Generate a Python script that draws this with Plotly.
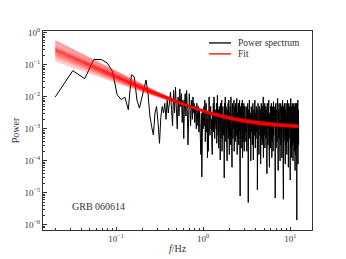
import numpy as np
import plotly.graph_objects as go

# ---- frequency grid (FFT bins, Hz), three segments ----
freq_a = 0.02 + 0.0118 * np.arange(85)     # 0.02 ... 1.01
freq_b = 1.02 + 0.0125 * np.arange(160)    # 1.02 ... 3.01
freq_c = 3.02 + 0.025 * np.arange(380)     # 3.02 ... 12.5

# ---- log10 power ----
logp_a = [
    -2.0, -1.18, -1.43, -0.83, -0.83, -0.94, -1.2, -1.93, -2.08, -2.01,
    -2.40, -1.31, -1.37, -2.1, -2.35, -2.0, -1.7, -1.47, -1.9, -2.6,
    -2.93, -3.19, -2.5, -2.3, -2.8, -3.45, -2.6, -2.3, -2.5, -2.2,
    -2.7, -2.1, -2.5, -2.0, -1.85, -2.4, -2.9, -1.8, -2.5, -1.7,
    -2.2, -3.0, -2.0, -2.6, -1.75, -2.3, -1.9, -2.8, -2.1, -3.3,
    -2.2, -1.9, -2.6, -1.8, -2.4, -3.5, -2.7, -1.9, -2.2, -2.9,
    -2.4, -2.1, -2.7, -2.0, -2.5, -2.2, -2.8, -2.3, -2.6, -3.0,
    -2.2, -2.5, -2.9, -2.3, -3.1, -2.4, -2.7, -3.3, -3.8, -2.5,
    -4.5, -2.6, -2.4, -3.0, -2.5,
]
logp_b = [
    -2.3, -2.9, -2.1, -3.4, -2.6, -2.2, -3.1, -2.7, -3.9, -2.5,
    -3.7, -2.4, -2.0, -2.8, -3.2, -2.6, -2.3, -3.0, -2.7, -3.4,
    -3.8, -2.5, -2.9, -2.2, -3.1, -2.0, -2.7, -3.3, -2.4, -2.8,
    -2.6, -3.0, -2.2, -3.45, -2.5, -1.95, -2.9, -3.2, -2.4, -3.6,
    -2.7, -2.3, -3.1, -2.6, -3.97, -2.2, -2.8, -3.3, -2.5, -2.1,
    -3.7, -2.6, -2.9, -2.3, -3.0, -2.4, -3.2, -2.7, -4.53, -2.2,
    -2.5, -3.1, -2.0, -2.8, -3.4, -2.3, -2.6, -2.9, -3.6, -4.0,
    -2.4, -2.7, -3.0, -2.2, -3.3, -2.6, -2.1, -2.9, -3.8, -2.5,
    -2.8, -3.2, -2.3, -2.6, -3.5, -2.0, -2.7, -3.0, -2.4, -3.1,
    -4.2, -2.5, -2.9, -2.2, -3.3, -2.7, -2.4, -3.0, -2.6, -2.1,
    -3.7, -2.8, -2.3, -3.1, -2.5, -2.9, -3.4, -2.2, -2.7, -3.0,
    -2.4, -3.2, -2.6, -2.05, -2.9, -3.8, -2.5, -2.8, -3.3, -2.3,
    -2.7, -3.0, -2.2, -3.5, -2.6, -2.4, -3.1, -2.8, -2.1, -3.4,
    -2.5, -5.1, -2.9, -2.3, -3.2, -2.7, -2.4, -3.6, -2.6, -2.2,
    -3.0, -2.8, -2.5, -3.3, -2.1, -3.9, -2.6, -2.9, -2.3, -3.1,
    -2.7, -2.4, -3.4, -2.2, -2.8, -3.7, -2.5, -3.0, -2.6, -2.3,
]
logp_c = [
    -2.5, -3.1, -2.7, -3.4, -2.3, -2.9, -3.7, -2.6, -3.0, -2.2,
    -2.8, -5.3, -2.4, -3.2, -2.7, -2.1, -3.3, -2.6, -3.0, -2.5,
    -4.0, -2.7, -2.3, -3.1, -2.9, -2.5, -3.5, -2.8, -2.2, -3.3,
    -3.97, -2.6, -2.4, -3.0, -2.8, -3.2, -2.1, -2.7, -3.6, -2.5,
    -2.9, -3.3, -2.3, -2.7, -3.1, -2.6, -2.4, -4.9, -2.8, -3.0,
    -2.2, -3.4, -2.6, -2.9, -3.8, -2.5, -3.1, -2.3, -2.7, -3.2,
    -2.8, -2.4, -4.1, -2.6, -3.0, -2.2, -3.3, -2.7, -2.5, -3.5,
    -2.9, -2.3, -3.1, -2.6, -3.4, -2.0, -3.9, -2.8, -2.5, -3.0,
    -2.4, -3.2, -2.7, -2.2, -3.6, -2.9, -2.5, -3.1, -2.8, -2.3,
    -3.3, -2.6, -3.0, -2.4, -2.8, -4.4, -2.7, -2.2, -3.2, -2.5,
    -2.9, -3.5, -2.6, -2.3, -3.1, -2.8, -2.1, -3.4, -2.7, -3.0,
    -4.2, -2.5, -2.9, -3.2, -2.4, -2.7, -3.6, -2.3, -2.8, -3.0,
    -2.6, -3.3, -2.2, -2.9, -3.1, -3.9, -2.5, -2.7, -3.4, -2.4,
    -2.8, -3.0, -2.3, -3.7, -2.6, -2.9, -2.15, -3.2, -2.7, -2.5,
    -3.1, -2.4, -2.8, -3.5, -2.6, -3.0, -2.3, -2.9, -5.16, -2.7,
    -3.3, -2.5, -2.2, -3.0, -2.8, -3.6, -2.4, -2.9, -3.1, -2.6,
    -2.7, -3.4, -2.3, -2.9, -3.2, -2.5, -2.05, -3.0, -2.8, -3.8,
    -4.3, -2.6, -2.9, -2.4, -3.1, -2.7, -3.3, -2.2, -2.8, -3.0,
    -2.5, -3.2, -2.7, -2.3, -2.9, -4.0, -2.6, -3.4, -2.4, -2.8,
    -3.0, -2.2, -3.5, -2.7, -2.5, -3.1, -2.9, -2.3, -3.6, -2.6,
    -3.9, -2.8, -2.4, -3.2, -2.6, -3.0, -2.1, -2.9, -3.3, -2.7,
    -2.5, -3.1, -2.8, -5.2, -2.3, -2.7, -3.4, -2.6, -3.0, -2.4,
    -2.9, -3.2, -2.2, -2.8, -3.6, -2.5, -3.0, -2.7, -2.3, -3.3,
    -4.1, -2.6, -2.9, -2.4, -3.1, -2.7, -3.5, -2.2, -2.8, -3.0,
    -2.5, -3.3, -2.7, -2.3, -3.0, -3.8, -2.6, -2.9, -2.4, -3.2,
    -2.8, -2.1, -3.4, -2.6, -3.0, -2.5, -2.9, -3.7, -2.3, -2.7,
    -4.2, -2.9, -2.5, -3.1, -2.7, -2.2, -3.3, -2.8, -2.6, -3.0,
    -2.4, -3.5, -2.7, -2.9, -3.2, -2.5, -2.3, -3.0, -2.8, -4.6,
    -2.6, -3.1, -2.4, -2.8, -3.4, -2.05, -2.9, -3.6, -2.5, -2.7,
    -3.0, -2.3, -3.2, -2.7, -2.5, -3.9, -2.8, -2.4, -3.1, -2.6,
    -2.9, -3.3, -2.2, -2.7, -3.0, -2.5, -3.5, -2.8, -2.4, -3.2,
    -4.0, -2.6, -2.9, -2.3, -3.1, -2.7, -2.5, -3.4, -2.8, -2.2,
    -3.0, -2.7, -3.3, -2.4, -2.9, -3.7, -2.6, -2.8, -3.1, -2.5,
    -2.3, -3.2, -2.7, -2.9, -4.3, -2.5, -3.0, -2.6, -2.2, -3.4,
    -3.8, -2.8, -2.4, -3.1, -2.7, -2.5, -3.3, -2.9, -2.6, -3.0,
    -2.4, -3.2, -2.8, -2.2, -3.0, -5.85, -2.7, -2.5, -3.4, -2.9,
    -2.6, -3.1, -2.3, -3.6, -2.8, -2.5, -3.0, -2.7, -2.1, -3.3,
    -4.1, -2.7, -2.9, -2.4, -3.2, -2.6, -3.0, -2.5, -2.8, -3.5,
]

# ---- fit posterior samples: P = amp * f^-index + const ----
fit_index = [1.00, 1.05, 1.08, 1.10, 1.12, 1.14, 1.15, 1.16, 1.18, 1.19, 1.20, 1.20,
             1.21, 1.22, 1.23, 1.24, 1.25, 1.26, 1.28, 1.30, 1.32, 1.35, 1.38, 1.40]
fit_amp = [0.00274, 0.00269, 0.00266, 0.00264, 0.00262, 0.00260, 0.00259, 0.00258,
           0.00257, 0.00256, 0.00255, 0.00255, 0.00254, 0.00253, 0.00252, 0.00251,
           0.00250, 0.00250, 0.00248, 0.00246, 0.00244, 0.00242, 0.00239, 0.00237]
fit_const = [0.00105, 0.00112, 0.00100, 0.00115, 0.00108, 0.00103, 0.00118, 0.00110,
             0.00106, 0.00113, 0.00109, 0.00111, 0.00104, 0.00116, 0.00107, 0.00112,
             0.00101, 0.00110, 0.00114, 0.00106, 0.00109, 0.00103, 0.00117, 0.00108]

y_tick_exp = [0, -1, -2, -3, -4, -5, -6]
x_tick_exp = [-1, 0, 1]
legend_labels = ["Power spectrum", "Fit"]
legend_colors = ["black", "red"]

freq = np.concatenate([freq_a, freq_b, freq_c])
power = 10.0 ** np.array(logp_a + logp_b + logp_c)

FONT = "Liberation Serif"
TXT = "#333"
fig = go.Figure()

fig.add_trace(go.Scatter(x=freq, y=power, mode="lines", name=legend_labels[0],
                         line=dict(color="black", width=1), showlegend=False))

for a, idx, c in zip(fit_amp, fit_index, fit_const):
    fig.add_trace(go.Scatter(x=freq, y=a * freq ** (-idx) + c, mode="lines",
                             line=dict(color="rgba(255,0,0,0.22)", width=2),
                             showlegend=False, hoverinfo="skip"))

def sup(e):
    return "10<sup>" + ("\u2212" if e < 0 else "") + str(abs(e)) + "</sup>"

def minor_vals(lo, hi):
    return [m * 10.0 ** e for e in range(lo, hi) for m in range(2, 10)]

axis_common = dict(type="log", showgrid=False, zeroline=False, showline=True,
                   linecolor="#333", linewidth=1, mirror=True, ticks="inside",
                   ticklen=3.5, tickwidth=0.8, tickcolor="#333", automargin=False,
                   tickfont=dict(family=FONT, size=9, color=TXT))

fig.update_xaxes(range=[-1.84, 1.25], tickmode="array",
                 tickvals=[10.0 ** e for e in x_tick_exp],
                 ticktext=[sup(e) for e in x_tick_exp],
                 minor=dict(ticks="inside", ticklen=2, tickcolor="#333",
                            tickvals=minor_vals(-2, 2)),
                 title=dict(text="<i>f</i>/Hz", font=dict(family=FONT, size=10, color=TXT),
                            standoff=2),
                 **axis_common)
fig.update_yaxes(range=[-6.16, 0.06], tickmode="array",
                 tickvals=[10.0 ** e for e in y_tick_exp],
                 ticktext=[sup(e) for e in y_tick_exp],
                 minor=dict(ticks="inside", ticklen=2, tickcolor="#333",
                            tickvals=minor_vals(-7, 1)),
                 title=dict(text="Power", font=dict(family=FONT, size=10, color=TXT),
                            standoff=2),
                 **axis_common)

# hand-drawn legend (compact spacing like the original)
leg_x0, leg_x1, leg_tx = 0.617, 0.699, 0.721
leg_rows = [0.940, 0.885]
for lab, col, yy in zip(legend_labels, legend_colors, leg_rows):
    fig.add_shape(type="line", xref="paper", yref="paper", x0=leg_x0, x1=leg_x1,
                  y0=yy, y1=yy, line=dict(color=col, width=1.3))
    fig.add_annotation(text=lab, xref="paper", yref="paper", x=leg_tx, y=yy,
                       xanchor="left", yanchor="middle", showarrow=False, borderpad=0,
                       font=dict(family=FONT, size=9.5, color=TXT))

fig.add_annotation(text="GRB 060614", xref="paper", yref="paper", x=0.10, y=0.12,
                   xanchor="left", yanchor="middle", showarrow=False,
                   font=dict(family=FONT, size=10, color=TXT))

# page body adds an 8px offset, so the figure is sized to fit the 346x259 window
fig.update_layout(width=338, height=251, margin=dict(l=35, r=34, t=23, b=29),
                  paper_bgcolor="white", plot_bgcolor="white", showlegend=False)

fig.write_html("out.html")
